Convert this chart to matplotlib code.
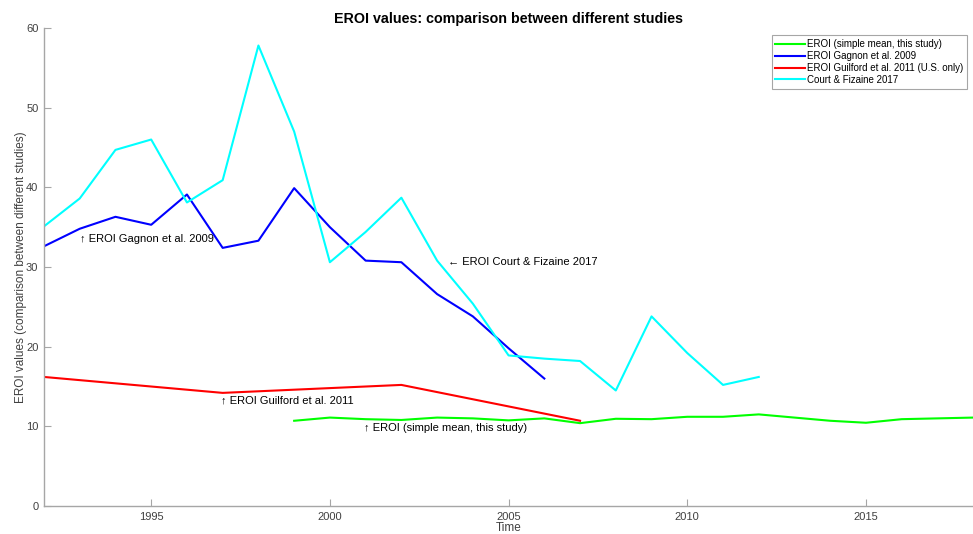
import matplotlib
matplotlib.use('Agg')
import matplotlib.pyplot as plt

plt.rcParams['font.family'] = ['Liberation Sans', 'DejaVu Sans']

# EROI (simple mean, this study)
years_mean = [1999, 2000, 2001, 2002, 2003, 2004, 2005, 2006, 2007, 2008,
              2009, 2010, 2011, 2012, 2013, 2014, 2015, 2016, 2017, 2018]
eroi_mean = [10.7, 11.1, 10.9, 10.8, 11.1, 11.0, 10.75, 11.0, 10.4, 10.95,
             10.9, 11.2, 11.2, 11.5, 11.1, 10.7, 10.45, 10.9, 11.0, 11.1]

# Gagnon et al. 2009
years_gagnon = list(range(1992, 2007))
eroi_gagnon = [32.6, 34.8, 36.3, 35.3, 39.1, 32.4, 33.3, 39.9, 35.0, 30.8,
               30.6, 26.6, 23.8, 19.8, 16.0]

# Guilford et al. 2011 (U.S. only)
years_guilford = [1992, 1997, 2002, 2007]
eroi_guilford = [16.2, 14.2, 15.2, 10.7]

# Court & Fizaine 2017
years_court = list(range(1992, 2013))
eroi_court = [35.1, 38.6, 44.7, 46.0, 38.1, 40.9, 57.8, 47.0, 30.6, 34.4,
              38.7, 30.8, 25.4, 18.9, 18.5, 18.2, 14.5, 23.8, 19.2, 15.2, 16.2]

fig = plt.figure(figsize=(9.73, 5.34), dpi=100)
ax = fig.add_axes([0.0452, 0.0524, 0.955, 0.8952])

ax.plot(years_mean, eroi_mean, color=(0, 1, 0), lw=1.5,
        label='EROI (simple mean, this study)')
ax.plot(years_gagnon, eroi_gagnon, color=(0, 0, 1), lw=1.5,
        label='EROI Gagnon et al. 2009')
ax.plot(years_guilford, eroi_guilford, color=(1, 0, 0), lw=1.5,
        label='EROI Guilford et al. 2011 (U.S. only)')
ax.plot(years_court, eroi_court, color=(0, 1, 1), lw=1.5,
        label='Court & Fizaine 2017')

ax.text(1993.0, 33.5, '↑ EROI Gagnon et al. 2009', fontsize=8, va='center')
ax.text(2003.3, 30.6, '← EROI Court & Fizaine 2017', fontsize=8, va='center')
ax.text(1996.95, 13.2, '↑ EROI Guilford et al. 2011', fontsize=8, va='center')
ax.text(2000.95, 9.8, '↑ EROI (simple mean, this study)', fontsize=8, va='center')

ax.set_xlim(1992, 2018)
ax.set_ylim(0, 60)
ax.set_xticks([1995, 2000, 2005, 2010, 2015])
ax.set_yticks(range(0, 61, 10))

for side in ['top', 'right']:
    ax.spines[side].set_visible(False)
for side in ['left', 'bottom']:
    ax.spines[side].set_color('#a6a6a6')
    ax.spines[side].set_linewidth(1.0)
ax.tick_params(direction='in', length=5, color='#a6a6a6', labelsize=8,
               labelcolor='#404040', pad=4)

ax.set_title('EROI values: comparison between different studies',
             fontsize=10.3, fontweight='bold', pad=3.5)
ax.set_xlabel('Time', fontsize=8.5, labelpad=0.5, color='#404040')
ax.set_ylabel('EROI values (comparison between different studies)',
              fontsize=8.5, color='#404040', labelpad=-1)

leg = ax.legend(loc='upper right', bbox_to_anchor=(0.9935, 0.985), fontsize=7,
                fancybox=False, framealpha=1, edgecolor='#a6a6a6',
                handlelength=3.0, handletextpad=0.25, borderpad=0.4,
                labelspacing=0.2, borderaxespad=0)
leg.get_frame().set_linewidth(0.8)

fig.savefig('out.png', dpi=100)
